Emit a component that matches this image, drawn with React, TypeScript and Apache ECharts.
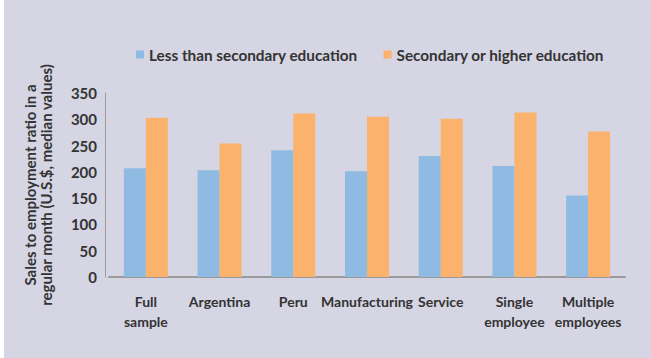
import React, { useEffect, useRef } from "react";
import * as echarts from "echarts";

const categories = ["Full\nsample", "Argentina", "Peru", "Manufacturing", "Service", "Single\nemployee", "Multiple\nemployees"];
const lessThanSecondary = [207, 203, 241, 201, 230, 211, 155];
const secondaryOrHigher = [303, 254, 311, 305, 301, 313, 277];
const seriesNames = ["Less than secondary education", "Secondary or higher education"];

const FONT = "Lato, 'Open Sans', sans-serif";

export default function App() {
  const ref = useRef<HTMLDivElement>(null);
  useEffect(() => {
    if (!ref.current) return;
    const chart = echarts.init(ref.current, undefined, { renderer: "svg" });
    chart.setOption({
      animation: false,
      backgroundColor: "#d5d5e3",
      textStyle: { fontFamily: FONT },
      legend: {
        left: 127,
        top: 42,
        itemWidth: 8,
        itemHeight: 8,
        itemGap: 26,
        icon: "rect",
        textStyle: { fontFamily: FONT, fontSize: 15.3, fontWeight: "bold", color: "#333333" },
        data: seriesNames,
      },
      grid: { left: 105, right: 26, top: 93, bottom: 81 },
      xAxis: {
        type: "category",
        data: categories,
        axisLine: { lineStyle: { color: "#9a9a9a", width: 2 } },
        axisTick: { show: false },
        axisLabel: {
          interval: 0,
          margin: 14,
          fontFamily: FONT,
          fontSize: 14,
          fontWeight: "bold",
          color: "#333333",
          lineHeight: 20,
        },
      },
      yAxis: {
        type: "value",
        min: 0,
        max: 350,
        interval: 50,
        offset: 4,
        name: "Sales to employment ratio in a\nregular month (U.S.$, median values)",
        nameLocation: "middle",
        nameRotate: 90,
        nameGap: 51,
        nameTextStyle: { fontFamily: FONT, fontSize: 15, fontWeight: "bold", color: "#333333", lineHeight: 16 },
        axisLine: { show: true, lineStyle: { color: "#9a9a9a", width: 1 } },
        axisTick: { show: false },
        splitLine: { show: false },
        axisLabel: { fontFamily: FONT, fontSize: 15, fontWeight: "bold", color: "#333333", margin: 8 },
      },
      series: [
        {
          name: seriesNames[0],
          type: "bar",
          data: lessThanSecondary,
          barWidth: 22,
          barGap: "0%",
          itemStyle: { color: "#8fbbe2" },
        },
        {
          name: seriesNames[1],
          type: "bar",
          data: secondaryOrHigher,
          barWidth: 22,
          barGap: "0%",
          itemStyle: { color: "#fbb26c" },
        },
      ],
    });
    return () => chart.dispose();
  }, []);
  return (
    <div style={{ position: "fixed", left: 0, top: 0, width: 651, height: 358, background: "#ffffff" }}>
      <div ref={ref} style={{ position: "absolute", left: 4, top: 0, width: 647, height: 358 }} />
    </div>
  );
}
